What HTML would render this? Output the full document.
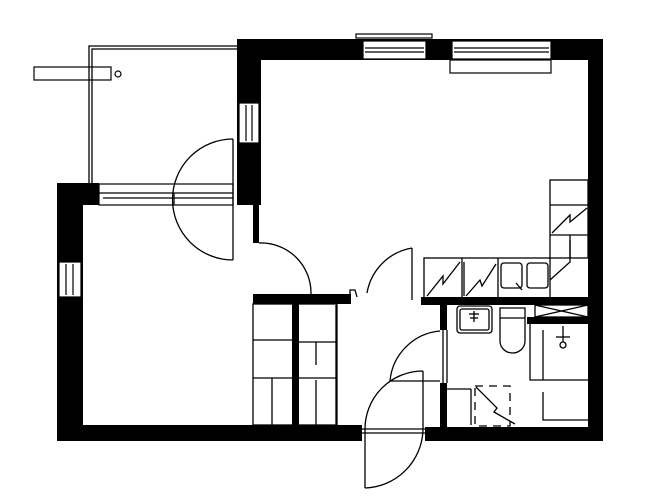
<!DOCTYPE html>
<html><head><meta charset="utf-8"><style>html,body{margin:0;padding:0;background:#fff}svg{display:block}</style></head>
<body>
<svg width="650" height="497" viewBox="0 0 650 497" xmlns="http://www.w3.org/2000/svg">
<g fill="#000">
<!-- top wall -->
<rect x="237" y="39" width="366" height="21"/>
<!-- right wall -->
<rect x="588" y="39" width="15" height="402"/>
<!-- left wall main room upper -->
<rect x="237" y="39" width="24" height="166"/>
<rect x="253" y="205" width="6" height="38"/>
<!-- left room left wall -->
<rect x="57" y="183" width="26" height="258"/>
<rect x="57" y="183" width="42" height="22"/>
<!-- bottom wall -->
<rect x="57" y="425" width="305" height="16"/>
<rect x="425" y="427" width="178" height="14"/>
<!-- closet top wall -->
<rect x="253" y="294" width="98" height="10"/>
<rect x="292" y="304" width="7" height="121"/>
<!-- kitchen wall -->
<rect x="421" y="297" width="167" height="8"/>
<rect x="440" y="305" width="7" height="25"/>
<rect x="440" y="383" width="7" height="44"/>
<rect x="527" y="317" width="61" height="7"/>
</g>
<g fill="#fff" stroke="#000" stroke-width="1.2">
<!-- top windows -->
<rect x="363" y="41" width="63" height="18"/>
<line x1="365" y1="48" x2="424" y2="48"/><line x1="365" y1="52" x2="424" y2="52"/>
<rect x="452" y="41" width="99" height="18"/>
<line x1="454" y1="48" x2="549" y2="48"/><line x1="454" y1="52" x2="549" y2="52"/>
<rect x="356" y="34" width="76" height="4"/>
<rect x="450" y="60" width="101" height="13"/>
<!-- left upper window -->
<rect x="239" y="103" width="20" height="40"/>
<line x1="246" y1="105" x2="246" y2="141"/><line x1="252" y1="105" x2="252" y2="141"/>
<!-- left room window -->
<rect x="59" y="262" width="22" height="35"/>
<line x1="66" y1="264" x2="66" y2="295"/><line x1="73" y1="264" x2="73" y2="295"/>
<!-- top window of left room -->
<rect x="99" y="184" width="134" height="21"/>
<line x1="99" y1="193" x2="233" y2="193"/><line x1="103" y1="198" x2="233" y2="198"/>
<line x1="174" y1="193" x2="174" y2="205"/>
<!-- balcony bar -->
<rect x="34" y="67" width="77" height="13"/>
<circle cx="118" cy="74" r="3"/>
</g>
<g fill="none" stroke="#000" stroke-width="1.3">
<!-- balcony outline -->
<polyline points="89,183 89,46 237,46"/>
<polyline points="92,183 92,49 237,49"/>
<!-- door between balcony/left room -->
<line x1="233" y1="139" x2="233" y2="260"/>
<path d="M233,139 A60,60 0 0 0 233,260"/>
<!-- door living->hall -->
<path d="M259,243 A50,50 0 0 1 311,294"/>
<!-- kitchen/hall door -->
<path d="M350,294 L350,290 L355,290 L357,297"/>
<path d="M367,293 A55,55 0 0 1 412,248"/>
<line x1="412" y1="248" x2="412" y2="300"/>
<!-- closets -->
<rect x="253" y="304" width="84" height="121"/>
<line x1="253" y1="340" x2="292" y2="340"/><line x1="299" y1="342" x2="337" y2="342"/>
<line x1="253" y1="378" x2="292" y2="378"/><line x1="299" y1="378" x2="337" y2="378"/>
<line x1="272" y1="378" x2="272" y2="425"/>
<line x1="316" y1="342" x2="316" y2="365"/><line x1="316" y1="380" x2="316" y2="425"/>
<!-- hall -->
<line x1="336" y1="305" x2="336" y2="425"/>
<!-- kitchen counter -->
<rect x="424" y="258" width="126" height="40"/>
<line x1="462" y1="258" x2="462" y2="298"/><line x1="498" y1="258" x2="498" y2="298"/>
<polyline points="427,296 443,276 443,284 460,262"/>
<line x1="464" y1="262" x2="464" y2="296"/>
<polyline points="466,296 480,280 482,286 496,264"/>
<rect x="501" y="263" width="21" height="25" rx="3"/>
<rect x="527" y="263" width="21" height="25" rx="3"/>
<line x1="516" y1="283" x2="522" y2="290"/>
<!-- kitchen column -->
<rect x="550" y="180" width="38" height="78"/>
<line x1="550" y1="205" x2="588" y2="205"/><line x1="550" y1="235" x2="588" y2="235"/>
<line x1="570" y1="235" x2="570" y2="258"/>
<polyline points="552,233 570,215 570,222 587,208"/>
<polyline points="550,280 570,262 570,240"/>
<!-- bathroom -->
<line x1="443" y1="330" x2="443" y2="383"/>
<line x1="447" y1="330" x2="447" y2="383"/>
<rect x="457" y="306" width="35" height="27" rx="3"/>
<rect x="460" y="309" width="29" height="21" rx="2"/>
<line x1="474" y1="311" x2="474" y2="322"/><line x1="469" y1="314" x2="479" y2="314"/><line x1="470" y1="318" x2="478" y2="318"/>
<path d="M500,308 h25 v33 a12.5,12 0 0 1 -25,0 z"/>
<line x1="500" y1="318" x2="525" y2="318"/>
<rect x="535" y="305" width="53" height="12"/>
<line x1="535" y1="305" x2="588" y2="317"/><line x1="535" y1="317" x2="588" y2="305"/>
<polyline points="530,324 530,380 588,380"/>
<line x1="543" y1="330" x2="543" y2="380"/>
<line x1="563" y1="326" x2="563" y2="342"/><line x1="556" y1="337" x2="570" y2="337"/>
<circle cx="563" cy="345" r="3"/>
<polyline points="543,392 543,420 588,420"/>
<line x1="447" y1="389" x2="471" y2="389"/><line x1="471" y1="389" x2="471" y2="425"/>
<path d="M475,386 h35 v40 h-35 z" stroke-dasharray="8,6"/>
<polyline points="476,387 497,408 494,412 515,424"/>
<!-- entrance doors -->
<path d="M440,331 A55,55 0 0 0 390,381"/>
<line x1="390" y1="381" x2="440" y2="381"/>
<path d="M423,371 A58,58 0 0 0 365,430"/>
<line x1="423" y1="371" x2="423" y2="430"/>
<line x1="362" y1="429" x2="425" y2="429"/><line x1="362" y1="433" x2="425" y2="433"/>
<line x1="365" y1="430" x2="365" y2="488"/>
<path d="M365,488 A60,60 0 0 0 423,430"/>
</g>
</svg>
</body></html>
